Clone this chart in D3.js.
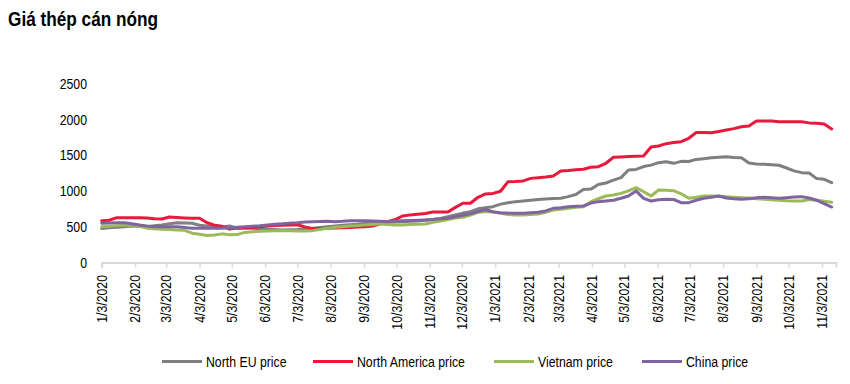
<!DOCTYPE html>
<html>
<head>
<meta charset="utf-8">
<script src="https://cdn.jsdelivr.net/npm/d3@7"></script>
<style>
  body { margin: 0; background: #fff; }
  text { font-family: "Liberation Sans", Arial, sans-serif; fill: #000; }
</style>
</head>
<body>
<script>
// - Giá thép cán nóng -

// Data (weekly, starting 1/3/2020)

const firstWeek = "1/3/2020";
const lastDay = "11/16/2021";

const northEU = [475, 485, 492, 500, 510, 505, 500, 512, 524, 540, 556, 552, 548, 520, 510, 492, 500, 510, 480, 478,
  478, 470, 464, 460, 455, 458, 462, 470, 480, 490, 500, 510, 520, 528, 535, 545, 550, 555, 560, 565,
  570, 575, 580, 590, 600, 615, 640, 665, 690, 710, 750, 765, 780, 815, 835, 850, 860, 870, 880, 888,
  895, 897, 920, 950, 1020, 1025, 1090, 1110, 1150, 1185, 1292, 1300, 1340, 1360, 1394, 1408, 1385, 1413, 1410, 1440,
  1450, 1462, 1470, 1478, 1465, 1464, 1390, 1375, 1372, 1365, 1358, 1320, 1280, 1255, 1250, 1172, 1162, 1115];

const northAmerica = [584, 590, 626, 626, 626, 626, 622, 610, 608, 636, 628, 622, 618, 617, 555, 522, 505, 466, 482, 486,
  490, 496, 510, 515, 520, 525, 528, 498, 472, 470, 478, 482, 486, 490, 495, 500, 510, 538, 570, 600,
  650, 665, 675, 685, 705, 705, 705, 770, 827, 827, 911, 957, 965, 995, 1129, 1132, 1139, 1175, 1185, 1195,
  1208, 1278, 1285, 1295, 1302, 1330, 1338, 1386, 1470, 1475, 1480, 1485, 1488, 1612, 1627, 1660, 1675, 1688, 1735, 1815,
  1815, 1813, 1830, 1851, 1870, 1895, 1905, 1975, 1978, 1975, 1967, 1965, 1965, 1965, 1950, 1945, 1935, 1865];

const vietnam = [500, 505, 515, 522, 520, 505, 480, 472, 464, 460, 455, 450, 410, 395, 378, 385, 400, 386, 390, 420,
  430, 435, 440, 442, 444, 442, 440, 440, 445, 462, 480, 492, 500, 510, 515, 524, 530, 538, 530, 524,
  525, 530, 535, 538, 560, 580, 600, 620, 631, 664, 700, 710, 710, 687, 670, 664, 664, 670, 678, 700,
  733, 745, 757, 770, 780, 850, 890, 929, 943, 965, 1000, 1045, 990, 929, 1013, 1010, 1003, 960, 897, 910,
  929, 929, 925, 918, 912, 906, 900, 890, 883, 875, 870, 862, 860, 859, 880, 870, 855, 841];

const china = [548, 552, 556, 556, 540, 524, 510, 500, 500, 500, 500, 490, 480, 478, 478, 478, 478, 485, 492, 500,
  508, 514, 525, 534, 540, 550, 556, 565, 570, 572, 575, 570, 575, 584, 584, 584, 580, 575, 570, 578,
  584, 586, 590, 594, 600, 612, 617, 640, 660, 680, 710, 740, 705, 696, 690, 688, 687, 695, 701, 720,
  757, 765, 780, 785, 789, 830, 850, 859, 870, 897, 929, 1000, 895, 859, 875, 883, 880, 836, 836, 870,
  897, 911, 929, 900, 890, 883, 890, 905, 911, 905, 897, 905, 915, 920, 900, 870, 822, 775];

const seriesNames = ["North EU price", "North America price", "Vietnam price", "China price"];
const seriesColors = ["#7f7f7f", "#e8193c", "#9bbb59", "#8064a2"];

const tickLabels = ["1/3/2020", "2/3/2020", "3/3/2020", "4/3/2020", "5/3/2020", "6/3/2020", "7/3/2020", "8/3/2020",
  "9/3/2020", "10/3/2020", "11/3/2020", "12/3/2020", "1/3/2021", "2/3/2021", "3/3/2021", "4/3/2021",
  "5/3/2021", "6/3/2021", "7/3/2021", "8/3/2021", "9/3/2021", "10/3/2021", "11/3/2021"];

const yTicks = [0, 500, 1000, 1500, 2000, 2500];

// Chart size

const w = 850,
      h = 384,
      narrow = 0.82;   // Arial Narrow look

const parse = d3.timeParse("%m/%d/%Y");
const start = parse(firstWeek);
const dates = northEU.map((d, i) => d3.timeDay.offset(start, i * 7));

const x = d3.scaleTime()
            .domain([start, parse(lastDay)])
            .range([101.7, 836]);

const y = d3.scaleLinear()
            .domain([0, 2500])
            .range([262.5, 83.5]);

// SVG

const svg = d3.select("body")
              .append("svg")
              .attr("width", w)
              .attr("height", h);

// Title

svg.append("text")
   .attr("transform", "translate(8,26) scale(0.82,1)")
   .attr("font-size", "21px")
   .attr("font-weight", "bold")
   .text("Giá thép cán nóng");

// Y axis labels

svg.selectAll(".ylab")
   .data(yTicks)
   .enter()
   .append("text")
   .attr("class", "ylab")
   .attr("transform", d => "translate(87," + y(d) + ") scale(" + narrow + ",1)")
   .attr("dy", "0.35em")
   .attr("text-anchor", "end")
   .attr("font-size", "15px")
   .text(d => d);

// X axis

const xAxis = svg.append("g")
                 .attr("transform", "translate(0," + y(0) + ")")
                 .call(d3.axisBottom(x)
                         .tickValues(tickLabels.map(parse))
                         .tickSize(5)
                         .tickFormat(""));

xAxis.select(".domain").attr("stroke", "#d9d9d9").attr("stroke-width", 2);
xAxis.selectAll(".tick line").attr("stroke", "#d9d9d9").attr("stroke-width", 1.5);

svg.selectAll(".xlab")
   .data(tickLabels)
   .enter()
   .append("text")
   .attr("class", "xlab")
   .attr("text-anchor", "end")
   .attr("font-size", "15px")
   .attr("transform", d => "translate(" + x(parse(d)) + ",275) rotate(-90) scale(" + narrow + ",1)")
   .attr("dy", "0.35em")
   .text(d => d);

// Lines

const series = [northEU, northAmerica, vietnam, china];

const line = d3.line()
               .x((d, i) => x(dates[i]))
               .y(d => y(d));

svg.selectAll(".series")
   .data(series)
   .enter()
   .append("path")
   .attr("class", "series")
   .attr("d", d => line(d))
   .attr("fill", "none")
   .attr("stroke", (d, i) => seriesColors[i])
   .attr("stroke-width", 3)
   .attr("stroke-linejoin", "round")
   .attr("stroke-linecap", "round");

// Legend

const legendX = [162, 313, 494, 642];

const legend = svg.selectAll(".legend")
                  .data(seriesNames)
                  .enter()
                  .append("g")
                  .attr("class", "legend")
                  .attr("transform", (d, i) => "translate(" + legendX[i] + ",361.5)");

legend.append("line")
      .attr("x1", 0)
      .attr("x2", 40)
      .attr("stroke", (d, i) => seriesColors[i])
      .attr("stroke-width", 3);

legend.append("text")
      .attr("transform", "translate(44,0) scale(" + narrow + ",1)")
      .attr("dy", "0.35em")
      .attr("font-size", "15px")
      .text(d => d);
</script>
</body>
</html>
